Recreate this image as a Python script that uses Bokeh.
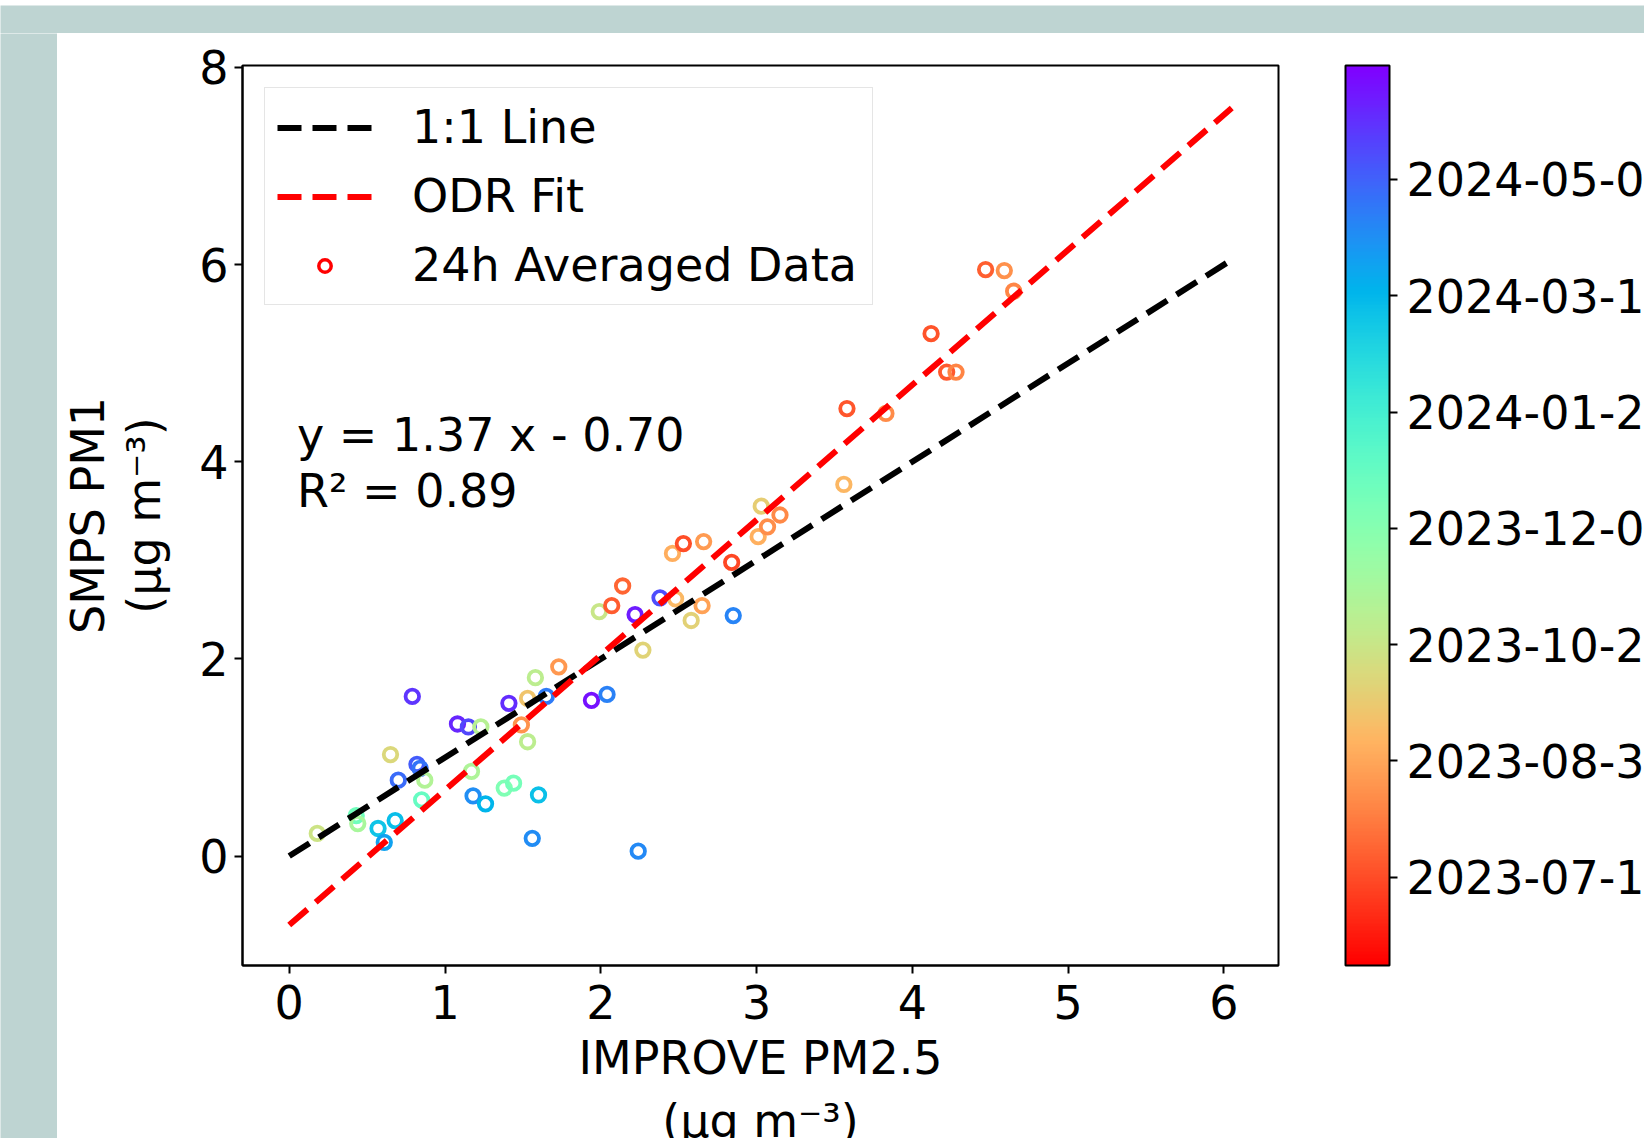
import numpy as np
import pandas as pd
from bokeh.plotting import figure
from bokeh.layouts import column, row
from bokeh.models import (ColumnDataSource, LinearColorMapper, ColorBar, FixedTicker,
                          DatetimeTickFormatter, Legend, LegendItem, Label, Range1d)
from bokeh.embed import file_html
from bokeh.resources import INLINE

# ---------------- data ----------------
improve_pm25 = [0.18, 0.43, 0.44, 0.57, 0.61, 0.68, 0.65, 0.70, 0.79, 0.82,
                0.84, 0.87, 0.85, 1.08, 1.15, 1.23, 1.17, 1.18, 1.26, 1.38,
                1.44, 1.41, 1.53, 1.49, 1.53, 1.58, 1.60, 1.56, 1.65, 1.73,
                1.94, 2.04, 2.24, 2.27, 1.99, 2.07, 2.14, 2.22, 2.38, 2.48,
                2.58, 2.65, 2.85, 2.46, 2.53, 2.66, 2.84, 3.03, 3.01, 3.07,
                3.15, 3.56, 3.58, 3.83, 4.12, 4.22, 4.28, 4.47, 4.59, 4.65]
smps_pm1 = [0.23, 0.41, 0.33, 0.28, 0.14, 0.36, 1.03, 0.77, 1.62, 0.93,
            0.89, 0.77, 0.57, 1.34, 1.31, 1.31, 0.86, 0.61, 0.53, 0.69,
            0.74, 1.55, 1.60, 1.33, 1.16, 1.81, 0.62, 0.18, 1.62, 1.92,
            1.58, 1.64, 0.05, 2.09, 2.48, 2.54, 2.74, 2.45, 2.62, 2.61,
            2.39, 2.54, 2.44, 3.07, 3.17, 3.19, 2.98, 3.55, 3.24, 3.34,
            3.46, 3.77, 4.54, 4.49, 5.30, 4.91, 4.91, 5.95, 5.94, 5.73]
sample_dates = ["2023-10-17", "2023-12-26", "2023-11-14", "2024-03-09", "2024-04-01",
                "2024-03-13", "2023-10-06", "2024-05-02", "2024-05-29", "2024-05-10",
                "2024-04-28", "2023-11-06", "2024-01-03", "2024-06-06", "2024-05-21",
                "2023-11-03", "2023-11-09", "2024-04-12", "2024-03-20", "2023-12-14",
                "2023-12-22", "2024-06-03", "2023-09-20", "2023-08-20", "2023-10-29",
                "2023-10-30", "2024-03-12", "2024-04-14", "2024-04-24", "2023-08-23",
                "2024-06-17", "2024-04-20", "2024-04-16", "2023-10-02", "2023-10-21",
                "2023-07-20", "2023-07-24", "2024-06-10", "2024-05-17", "2023-09-13",
                "2023-09-30", "2023-08-28", "2024-04-18", "2023-09-05", "2023-07-13",
                "2023-08-24", "2023-07-10", "2023-09-28", "2023-09-07", "2023-08-17",
                "2023-08-13", "2023-09-11", "2023-07-17", "2023-08-15", "2023-07-15",
                "2023-07-18", "2023-08-10", "2023-07-22", "2023-08-18", "2023-08-12"]

fit_slope = 1.37
fit_intercept = -0.70
fit_r2 = 0.89
line_x = [0.0, 6.05]

x_ticks = [0, 1, 2, 3, 4, 5, 6]
y_ticks = [0, 2, 4, 6, 8]
cbar_tick_dates = ["2023-07-12", "2023-08-31", "2023-10-20", "2023-12-09",
                   "2024-01-28", "2024-03-18", "2024-05-07"]
cbar_date_range = ["2023-06-04", "2024-06-25"]

unit_text = "(\u03bcg m\u207b\u00b3)"
x_label = "IMPROVE PM2.5"
y_label = "SMPS PM1\n" + unit_text
legend_labels = ["1:1 Line", "ODR Fit", "24h Averaged Data"]

# ---------------- helpers ----------------
FONT = "DejaVu Sans"
FS = "46px"
TEAL = "#BED4D2"

X_RANGE = (-0.30, 6.35)
Y_RANGE = (-1.11, 8.02)
BORDER_L, BORDER_R = 185, 366


def to_ms(dates):
    return pd.to_datetime(dates).values.astype("datetime64[ms]").astype("int64").tolist()


def rainbow_r(n=256):
    cols = []
    for i in range(n):
        t = 1.0 - i / (n - 1)
        r = min(1.0, abs(2 * t - 0.5))
        g = max(0.0, min(1.0, np.sin(np.pi * t)))
        b = max(0.0, min(1.0, np.cos(np.pi * t / 2)))
        cols.append("#%02x%02x%02x" % (int(round(r * 255)), int(round(g * 255)), int(round(b * 255))))
    return cols


date_ms = to_ms(sample_dates)
cb_low, cb_high = to_ms(cbar_date_range)
cb_ticks = to_ms(cbar_tick_dates)

mapper = LinearColorMapper(palette=rainbow_r(), low=cb_low, high=cb_high)
x_range = Range1d(*X_RANGE)

# ---------------- main figure ----------------
p = figure(width=1587, height=1060, x_range=x_range, y_range=Range1d(*Y_RANGE),
           output_backend="svg", toolbar_location=None,
           min_border_left=BORDER_L, min_border_right=BORDER_R, min_border_top=32, min_border_bottom=128)
p.background_fill_color = "white"
p.border_fill_color = "white"
p.grid.visible = False
p.outline_line_color = "black"
p.outline_line_width = 2

p.xaxis.ticker = x_ticks
p.yaxis.ticker = y_ticks
p.xaxis.axis_label = x_label
p.yaxis.axis_label = y_label
for ax in (p.xaxis[0], p.yaxis[0]):
    ax.axis_label_text_font = FONT
    ax.axis_label_text_font_size = FS
    ax.axis_label_text_font_style = "normal"
    ax.axis_label_text_color = "black"
    ax.major_label_text_font = FONT
    ax.major_label_text_font_size = FS
    ax.major_label_text_color = "black"
    ax.axis_line_color = "black"
    ax.axis_line_width = 2
    ax.major_tick_line_color = "black"
    ax.major_tick_line_width = 2
    ax.major_tick_in = 0
    ax.major_tick_out = 8
    ax.minor_tick_line_color = None
p.xaxis.major_label_standoff = 11
p.xaxis.axis_label_standoff = 9
p.yaxis.major_label_standoff = 6
p.yaxis.axis_label_standoff = 25
p.yaxis.axis_label_text_line_height = 1.05

src = ColumnDataSource(dict(x=improve_pm25, y=smps_pm1, t=date_ms))
p.scatter("x", "y", source=src, marker="circle", size=13.5, fill_color=None,
          line_color={"field": "t", "transform": mapper}, line_width=3.8)

r_one = p.line(line_x, line_x, line_color="black", line_width=6, line_dash="24 11")
r_odr = p.line(line_x, [fit_slope * v + fit_intercept for v in line_x],
               line_color="red", line_width=6, line_dash="24 11")
# renderer used only for the legend swatch (no visible point)
leg_src = ColumnDataSource(dict(x=[np.nan], y=[np.nan]))
r_leg = p.scatter("x", "y", source=leg_src, marker="circle", fill_color=None,
                  line_color="red", line_width=3.5)

legend = Legend(items=[LegendItem(label=legend_labels[0], renderers=[r_one]),
                       LegendItem(label=legend_labels[1], renderers=[r_odr]),
                       LegendItem(label=legend_labels[2], renderers=[r_leg])],
                location="top_left", margin=22, padding=12, spacing=15,
                glyph_width=95, glyph_height=31, label_height=50, label_width=448,
                label_standoff=40,
                label_text_font=FONT, label_text_font_size=FS, label_text_color="black",
                border_line_color="#cccccc", border_line_width=1.5,
                background_fill_color="white", background_fill_alpha=0.8)
p.add_layout(legend)

sign = "-" if fit_intercept < 0 else "+"
p.add_layout(Label(x=0.05, y=4.27, text=f"y = {fit_slope:.2f} x {sign} {abs(fit_intercept):.2f}",
                   text_font=FONT, text_font_size=FS, text_baseline="middle", text_color="black"))
p.add_layout(Label(x=0.05, y=3.70, text=f"R\u00b2 = {fit_r2:.2f}",
                   text_font=FONT, text_font_size=FS, text_baseline="middle", text_color="black"))

cbar = ColorBar(color_mapper=mapper, orientation="vertical", location=(1103, 0),
                width=44, height=900, padding=0, margin=0,
                ticker=FixedTicker(ticks=cb_ticks),
                formatter=DatetimeTickFormatter(days="%Y-%m-%d", months="%Y-%m-%d", years="%Y-%m-%d"),
                major_label_text_font=FONT, major_label_text_font_size=FS,
                major_label_text_color="black", label_standoff=9,
                major_tick_line_color="black", major_tick_line_width=2,
                major_tick_in=0, major_tick_out=8, minor_tick_line_color=None,
                bar_line_color="black", bar_line_width=2,
                background_fill_color=None, border_line_color=None)
p.add_layout(cbar)

# ---------------- second line of the x-axis title (units) ----------------
p_units = figure(width=1587, height=45, x_range=x_range, y_range=Range1d(0, 45),
                 output_backend="svg", toolbar_location=None,
                 min_border_left=BORDER_L, min_border_right=BORDER_R,
                 min_border_top=0, min_border_bottom=0,
                 x_axis_location=None, y_axis_location=None)
p_units.grid.visible = False
p_units.outline_line_color = None
p_units.background_fill_color = "white"
p_units.border_fill_color = "white"
p_units.add_layout(Label(x=sum(X_RANGE) / 2, y=18, text=unit_text, text_align="center",
                         text_baseline="middle", text_font=FONT, text_font_size=FS,
                         text_color="black"))


# ---------------- slide background strips ----------------
def filler(w, h, color):
    f = figure(width=w, height=h, toolbar_location=None, output_backend="svg",
               min_border=0, x_axis_location=None, y_axis_location=None)
    f.grid.visible = False
    f.outline_line_color = None
    f.background_fill_color = color
    f.border_fill_color = color
    return f


top_edge = row(filler(786, 5, "white"), filler(858, 5, TEAL))
top_band = filler(1644, 28, TEAL)
left_strip = filler(57, 1105, TEAL)

layout = column(top_edge, top_band, row(left_strip, column(p, p_units)))

open("out.html", "w").write(file_html(layout, INLINE))
